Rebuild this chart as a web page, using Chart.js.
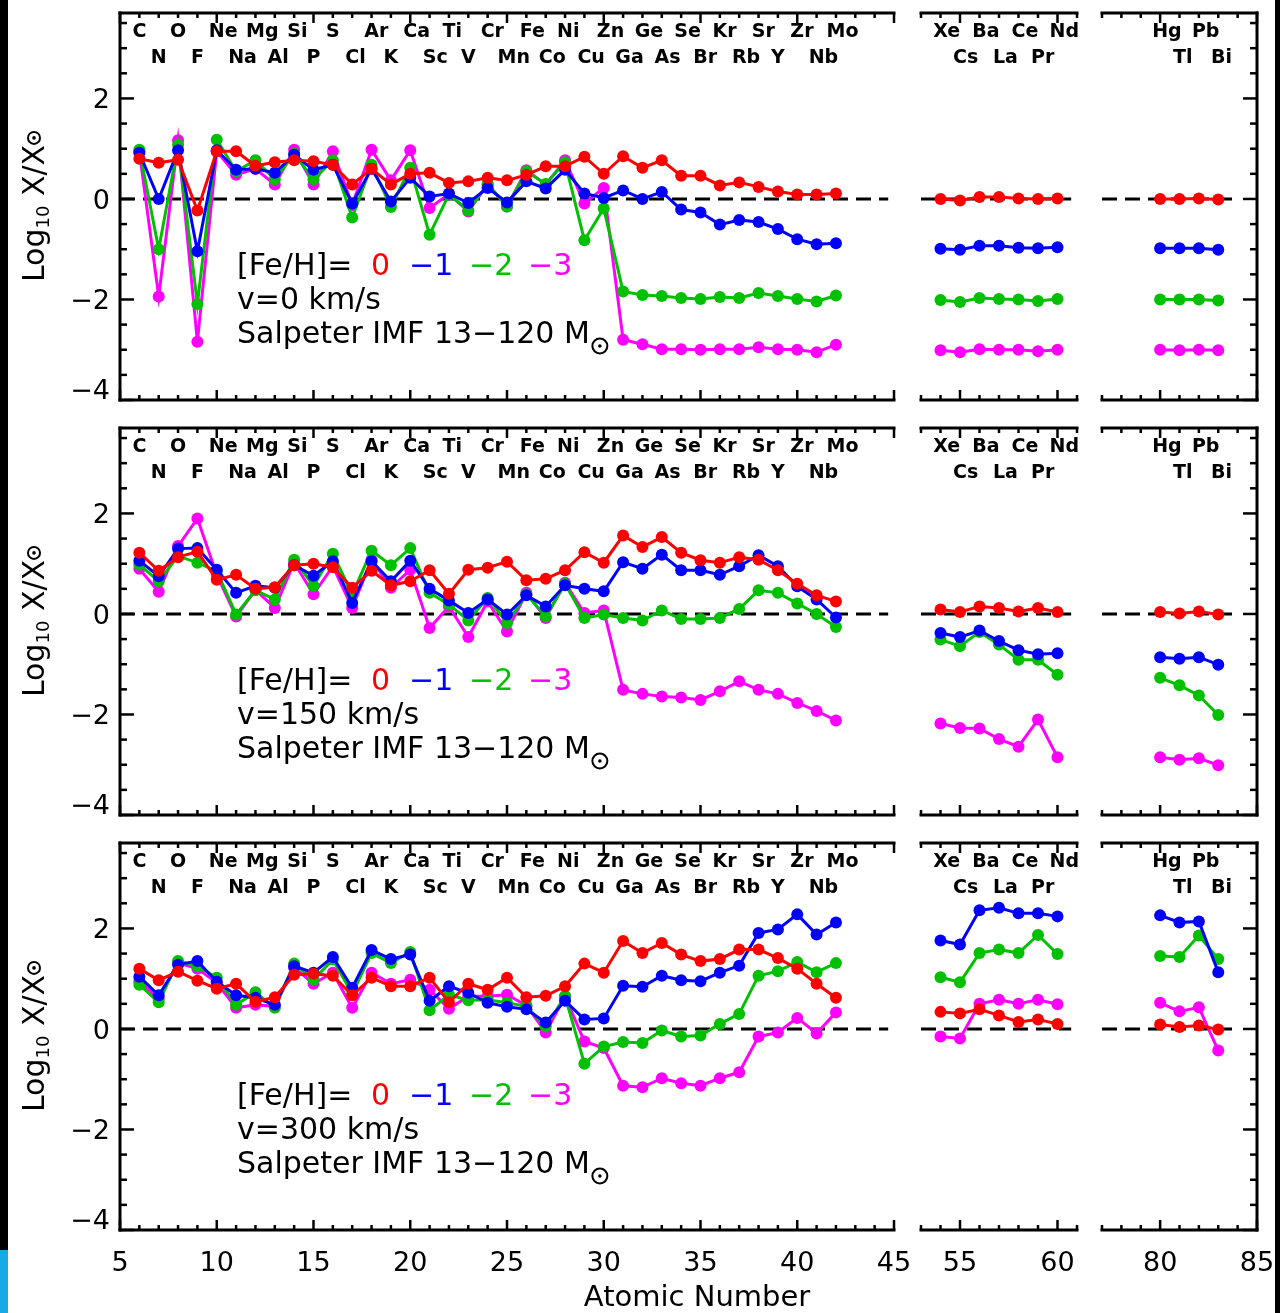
<!DOCTYPE html>
<html>
<head>
<meta charset="utf-8">
<script src="https://cdn.jsdelivr.net/npm/chart.js@4.4.1/dist/chart.umd.min.js"></script>
<style>
    html, body { margin: 0; padding: 0; background: #fff; }
    #wrap { position: relative; width: 1280px; height: 1313px; overflow: hidden; background: #fff; }
    #wrap canvas { position: absolute; left: 0; top: 0; }
    .edge { position: absolute; background: #000; }
</style>
</head>
<body>
<div id="wrap">
    <div class="edge" style="left:0;top:0;width:8px;height:1250px"></div>
    <div class="edge" style="left:0;top:1250px;width:8px;height:63px;background:#19a9e6"></div>
    <div class="edge" style="left:1275px;top:0;width:5px;height:1313px"></div>
</div>
<script>
// atomic numbers plotted (light elements, lanthanide group, lead group)
const zAll = [6, 7, 8, 9, 10, 11, 12, 13, 14, 15,
    16, 17, 18, 19, 20, 21, 22, 23, 24, 25,
    26, 27, 28, 29, 30, 31, 32, 33, 34, 35,
    36, 37, 38, 39, 40, 41, 42,
    54, 55, 56, 57, 58, 59, 60,
    80, 81, 82, 83];
const elements = ['C', 'N', 'O', 'F', 'Ne', 'Na', 'Mg', 'Al', 'Si', 'P',
    'S', 'Cl', 'Ar', 'K', 'Ca', 'Sc', 'Ti', 'V', 'Cr', 'Mn',
    'Fe', 'Co', 'Ni', 'Cu', 'Zn', 'Ga', 'Ge', 'As', 'Se', 'Br',
    'Kr', 'Rb', 'Sr', 'Y', 'Zr', 'Nb', 'Mo',
    'Xe', 'Cs', 'Ba', 'La', 'Ce', 'Pr', 'Nd',
    'Hg', 'Tl', 'Pb', 'Bi'];
const fehLabels = ['0', '\u22121', '\u22122', '\u22123'];
const velocities = ['0', '150', '300'];
const xTickLabels = [[5, 10, 15, 20, 25, 30, 35, 40, 45], [55, 60], [80, 85]];
const yTickLabels = [2, 0, -2, -4];

// v = 0 km/s
const v0Fe0 = [0.80, 0.72, 0.78, -0.23, 0.95, 0.95, 0.66, 0.73, 0.77, 0.75,
    0.68, 0.29, 0.60, 0.29, 0.50, 0.52, 0.32, 0.35, 0.42, 0.37,
    0.48, 0.65, 0.65, 0.84, 0.50, 0.85, 0.62, 0.77, 0.46, 0.46,
    0.27, 0.33, 0.24, 0.15, 0.09, 0.09, 0.11,
    0.00, -0.03, 0.04, 0.04, 0.01, 0.00, 0.01,
    0.00, 0.00, 0.01, -0.01];
const v0Fe1 = [0.92, 0.00, 0.97, -1.04, 0.97, 0.58, 0.60, 0.52, 0.88, 0.58,
    0.68, -0.09, 0.60, -0.05, 0.42, 0.05, 0.11, -0.08, 0.22, -0.07,
    0.35, 0.21, 0.58, 0.11, 0.02, 0.17, 0.00, 0.14, -0.21, -0.27,
    -0.51, -0.42, -0.46, -0.60, -0.80, -0.90, -0.88,
    -0.99, -1.01, -0.93, -0.93, -0.97, -0.98, -0.96,
    -0.98, -0.98, -0.98, -1.01];
const v0Fe2 = [0.98, -1.00, 1.08, -2.09, 1.18, 0.55, 0.77, 0.39, 0.90, 0.39,
    0.77, -0.37, 0.68, -0.16, 0.62, -0.71, 0.09, -0.23, 0.30, -0.15,
    0.55, 0.30, 0.73, -0.82, -0.19, -1.84, -1.91, -1.93, -1.97, -1.99,
    -1.95, -1.97, -1.87, -1.93, -1.99, -2.04, -1.92,
    -2.01, -2.05, -1.97, -1.99, -2.00, -2.03, -1.99,
    -2.00, -2.00, -2.00, -2.02];
const v0Fe3 = [0.95, -1.94, 1.17, -2.84, 0.95, 0.48, 0.60, 0.29, 0.98, 0.29,
    0.95, -0.12, 0.98, 0.37, 0.97, -0.18, 0.10, -0.25, 0.29, -0.15,
    0.57, 0.29, 0.77, -0.09, 0.22, -2.80, -2.89, -2.99, -2.99, -3.00,
    -2.99, -2.99, -2.95, -2.99, -3.00, -3.05, -2.90,
    -3.01, -3.05, -2.99, -3.00, -3.00, -3.03, -3.00,
    -3.00, -3.01, -3.00, -3.01];

// v = 150 km/s
const v150Fe0 = [1.22, 0.86, 1.13, 1.24, 0.68, 0.78, 0.50, 0.53, 0.97, 1.00,
    0.93, 0.52, 0.86, 0.57, 0.65, 0.87, 0.40, 0.88, 0.92, 1.04,
    0.67, 0.70, 0.87, 1.23, 1.02, 1.56, 1.33, 1.53, 1.22, 1.07,
    1.02, 1.13, 1.08, 0.87, 0.60, 0.37, 0.25,
    0.09, 0.04, 0.15, 0.12, 0.05, 0.12, 0.04,
    0.04, 0.01, 0.05, -0.01];
const v150Fe1 = [1.06, 0.75, 1.30, 1.31, 0.88, 0.42, 0.56, 0.52, 0.97, 0.76,
    1.05, 0.22, 1.05, 0.65, 1.06, 0.50, 0.27, 0.02, 0.29, -0.01,
    0.37, 0.15, 0.57, 0.50, 0.45, 1.03, 0.90, 1.18, 0.87, 0.87,
    0.78, 0.95, 1.17, 0.95, 0.55, 0.29, -0.07,
    -0.38, -0.46, -0.33, -0.54, -0.72, -0.80, -0.78,
    -0.86, -0.89, -0.86, -1.01];
const v150Fe2 = [0.98, 0.65, 1.15, 1.02, 0.85, -0.01, 0.47, 0.29, 1.08, 0.56,
    1.20, 0.39, 1.26, 0.97, 1.31, 0.42, 0.19, -0.13, 0.32, -0.18,
    0.39, -0.05, 0.60, -0.08, -0.01, -0.08, -0.13, 0.07, -0.10, -0.10,
    -0.08, 0.10, 0.47, 0.42, 0.21, 0.00, -0.26,
    -0.51, -0.64, -0.36, -0.61, -0.91, -0.91, -1.21,
    -1.27, -1.42, -1.62, -2.01];
const v150Fe3 = [0.90, 0.44, 1.35, 1.90, 0.78, -0.05, 0.48, 0.12, 1.02, 0.39,
    0.95, 0.12, 1.08, 0.52, 0.88, -0.28, 0.15, -0.46, 0.25, -0.35,
    0.42, -0.08, 0.62, 0.02, 0.07, -1.51, -1.59, -1.64, -1.66, -1.71,
    -1.54, -1.34, -1.51, -1.59, -1.77, -1.93, -2.12,
    -2.18, -2.27, -2.28, -2.49, -2.64, -2.10, -2.85,
    -2.85, -2.90, -2.87, -3.01];

// v = 300 km/s
const v300Fe0 = [1.20, 0.97, 1.14, 0.96, 0.80, 0.90, 0.54, 0.63, 1.08, 1.10,
    1.06, 0.67, 1.02, 0.85, 0.85, 1.02, 0.53, 0.90, 0.78, 1.02,
    0.63, 0.66, 0.85, 1.30, 1.12, 1.75, 1.51, 1.71, 1.48, 1.35,
    1.39, 1.58, 1.58, 1.41, 1.20, 0.90, 0.62,
    0.34, 0.31, 0.39, 0.27, 0.14, 0.19, 0.10,
    0.09, 0.04, 0.07, -0.01];
const v300Fe1 = [1.04, 0.67, 1.28, 1.35, 0.94, 0.67, 0.62, 0.48, 1.25, 1.12,
    1.43, 0.82, 1.57, 1.39, 1.48, 0.56, 0.85, 0.72, 0.52, 0.44,
    0.39, 0.13, 0.56, 0.19, 0.21, 0.86, 0.84, 1.06, 0.97, 0.95,
    1.12, 1.26, 1.91, 1.98, 2.28, 1.88, 2.12,
    1.76, 1.68, 2.36, 2.41, 2.30, 2.30, 2.24,
    2.26, 2.12, 2.14, 1.13];
const v300Fe2 = [0.88, 0.53, 1.35, 1.25, 1.02, 0.48, 0.73, 0.42, 1.30, 0.98,
    1.38, 0.70, 1.51, 1.31, 1.53, 0.37, 0.68, 0.57, 0.58, 0.52,
    0.45, 0.05, 0.65, -0.69, -0.35, -0.26, -0.28, -0.03, -0.15, -0.13,
    0.10, 0.30, 1.06, 1.15, 1.33, 1.13, 1.31,
    1.03, 0.93, 1.51, 1.58, 1.51, 1.87, 1.49,
    1.45, 1.43, 1.86, 1.39];
const v300Fe3 = [0.95, 0.60, 1.31, 1.20, 0.92, 0.42, 0.48, 0.45, 1.22, 0.90,
    1.12, 0.42, 1.12, 0.90, 0.98, 0.78, 0.40, 0.65, 0.65, 0.68,
    0.47, -0.07, 0.65, -0.25, -0.38, -1.13, -1.16, -0.98, -1.08, -1.13,
    -0.98, -0.86, -0.15, -0.07, 0.22, -0.09, 0.33,
    -0.15, -0.19, 0.50, 0.58, 0.50, 0.58, 0.49,
    0.52, 0.35, 0.43, -0.43];

const rowSeries = [
    [v0Fe0, v0Fe1, v0Fe2, v0Fe3],
    [v150Fe0, v150Fe1, v150Fe2, v150Fe3],
    [v300Fe0, v300Fe1, v300Fe2, v300Fe3]
];

// page layout
const W = 1280, H = 1313;
const FONT = '"DejaVu Sans", sans-serif';
const COLORS = ['#ff0000', '#0000ff', '#00c000', '#ff00ff'];
const ROW_TOP = [13, 428, 843];
const ROW_BOTTOM = [400, 815, 1230];
const COLS = [
    { left: 120, right: 894, min: 5, max: 45, yAxis: 'left', dash: [5, 44.7] },
    { left: 921, right: 1077, min: 53, max: 61, yAxis: null, dash: [53, 60.7] },
    { left: 1102, right: 1257, min: 77, max: 85, yAxis: 'right', dash: [77, 83.8] }
];
const FEH_X = [371, 409, 469, 528];

const wrap = document.getElementById('wrap');

function sun(ctx, cx, cy, r) {
    ctx.save();
    ctx.lineWidth = 2;
    ctx.beginPath();
    ctx.arc(cx, cy, r, 0, 2 * Math.PI);
    ctx.stroke();
    ctx.beginPath();
    ctx.arc(cx, cy, 1.8, 0, 2 * Math.PI);
    ctx.fill();
    ctx.restore();
}

function fmt(v) {
    return v < 0 ? '\u2212' + Math.abs(v) : String(v);
}

function decor(row, col) {
    const c = COLS[col];
    return {
        id: 'decor' + row + col,
        beforeDatasetsDraw(chart) {
            const { ctx, scales: { x, y } } = chart;
            const y0 = y.getPixelForValue(0);
            ctx.save();
            ctx.strokeStyle = '#000';
            ctx.lineWidth = 3;
            ctx.setLineDash([15, 8]);
            ctx.beginPath();
            ctx.moveTo(x.getPixelForValue(c.dash[0]), y0);
            ctx.lineTo(x.getPixelForValue(c.dash[1]), y0);
            ctx.stroke();
            ctx.restore();
        },
        afterDraw(chart) {
            const { ctx, chartArea: a, scales: { x, y } } = chart;
            ctx.save();
            ctx.strokeStyle = '#000';
            ctx.fillStyle = '#000';
            const seg = (x1, y1, x2, y2) => {
                ctx.beginPath();
                ctx.moveTo(x1, y1);
                ctx.lineTo(x2, y2);
                ctx.stroke();
            };

            // frame
            ctx.lineWidth = 3;
            ctx.lineCap = 'square';
            seg(a.left, a.top, a.right, a.top);
            seg(a.left, a.bottom, a.right, a.bottom);
            if (c.yAxis === 'left') seg(a.left, a.top, a.left, a.bottom);
            if (c.yAxis === 'right') seg(a.right, a.top, a.right, a.bottom);

            // inward ticks
            ctx.lineCap = 'butt';
            ctx.lineWidth = 2.5;
            for (let z = c.min; z <= c.max; z++) {
                const px = x.getPixelForValue(z);
                const len = z % 5 === 0 ? 10 : 5;
                seg(px, a.top, px, a.top + len);
                seg(px, a.bottom, px, a.bottom - len);
            }
            if (c.yAxis) {
                const sx = c.yAxis === 'left' ? a.left : a.right;
                const dir = c.yAxis === 'left' ? 1 : -1;
                for (let k = 0; k <= 15; k++) {
                    const v = -4 + k * 0.5;
                    const py = y.getPixelForValue(v);
                    const len = v % 2 === 0 ? 14 : 7;
                    seg(sx, py, sx + dir * len, py);
                }
            }

            // element names, two staggered rows
            ctx.font = 'bold 19px ' + FONT;
            ctx.textAlign = 'left';
            ctx.textBaseline = 'middle';
            zAll.forEach((z, i) => {
                if (z <= c.min || z >= c.max) return;
                const lab = elements[i];
                const w1 = ctx.measureText(lab[0]).width;
                const ly = z % 2 === 0 ? a.top + 19 : a.top + 45;
                ctx.fillText(lab, x.getPixelForValue(z) - w1 / 2, ly);
            });

            if (col === 0) {
                // model annotation
                ctx.font = '30px ' + FONT;
                const ly = [a.top + 254, a.top + 288, a.top + 322];
                ctx.fillText('[Fe/H]=', 237, ly[0]);
                fehLabels.forEach((s, k) => {
                    ctx.fillStyle = COLORS[k];
                    ctx.fillText(s, FEH_X[k], ly[0]);
                });
                ctx.fillStyle = '#000';
                ctx.fillText('v=' + velocities[row] + ' km/s', 237, ly[1]);
                const s3 = 'Salpeter IMF 13\u2212120 M';
                ctx.fillText(s3, 237, ly[2]);
                sun(ctx, 237 + ctx.measureText(s3).width + 10, ly[2] + 11, 7.5);

                // y tick labels
                ctx.font = '27px ' + FONT;
                ctx.textAlign = 'right';
                yTickLabels.forEach(v => {
                    const py = y.getPixelForValue(v);
                    ctx.fillText(fmt(v), 110, v === -4 ? py - 8 : py + 3);
                });

                // y title
                ctx.save();
                ctx.translate(44, (a.top + a.bottom) / 2);
                ctx.rotate(-Math.PI / 2);
                const big = '30px ' + FONT, small = '18px ' + FONT;
                ctx.font = big;
                const w1 = ctx.measureText('Log').width;
                const w3 = ctx.measureText(' X/X').width;
                ctx.font = small;
                const w2 = ctx.measureText('10').width;
                let cx = -(w1 + w2 + w3 + 14) / 2;
                ctx.textAlign = 'left';
                ctx.textBaseline = 'alphabetic';
                ctx.font = big;
                ctx.fillText('Log', cx, 0);
                cx += w1;
                ctx.font = small;
                ctx.fillText('10', cx, 5);
                cx += w2;
                ctx.font = big;
                ctx.fillText(' X/X', cx, 0);
                cx += w3;
                sun(ctx, cx + 7, -10, 6);
                ctx.restore();
            }

            if (row === 2) {
                ctx.font = '27px ' + FONT;
                ctx.textAlign = 'center';
                ctx.textBaseline = 'middle';
                xTickLabels[col].forEach(v => {
                    ctx.fillText(String(v), x.getPixelForValue(v), 1264);
                });
                if (col === 0) {
                    ctx.font = '29px ' + FONT;
                    ctx.fillText('Atomic Number', 697, 1298);
                }
            }
            ctx.restore();
        }
    };
}

function makePanel(row, col) {
    const c = COLS[col];
    const canvas = document.createElement('canvas');
    canvas.width = W;
    canvas.height = H;
    wrap.appendChild(canvas);

    // red first so it is drawn on top, magenta at the bottom
    const datasets = rowSeries[row].map((vals, k) => ({
        label: '[Fe/H]=' + fehLabels[k],
        data: zAll.map((z, i) => ({ x: z, y: vals[i] })).filter(p => p.x > c.min && p.x < c.max),
        borderColor: COLORS[k],
        backgroundColor: COLORS[k],
        pointBackgroundColor: COLORS[k],
        pointBorderColor: COLORS[k],
        borderWidth: 3,
        pointRadius: 6,
        pointBorderWidth: 0,
        tension: 0
    }));

    new Chart(canvas, {
        type: 'line',
        data: { datasets: datasets },
        options: {
            responsive: false,
            animation: false,
            events: [],
            layout: {
                padding: { left: c.left, right: W - c.right, top: ROW_TOP[row], bottom: H - ROW_BOTTOM[row] }
            },
            scales: {
                x: { type: 'linear', min: c.min, max: c.max, display: false },
                y: { type: 'linear', min: -4, max: 3.7, display: false }
            },
            plugins: {
                legend: { display: false },
                tooltip: { enabled: false }
            }
        },
        plugins: [decor(row, col)]
    });
}

for (let r = 0; r < 3; r++) {
    for (let c = 0; c < 3; c++) makePanel(r, c);
}
</script>
</body>
</html>
